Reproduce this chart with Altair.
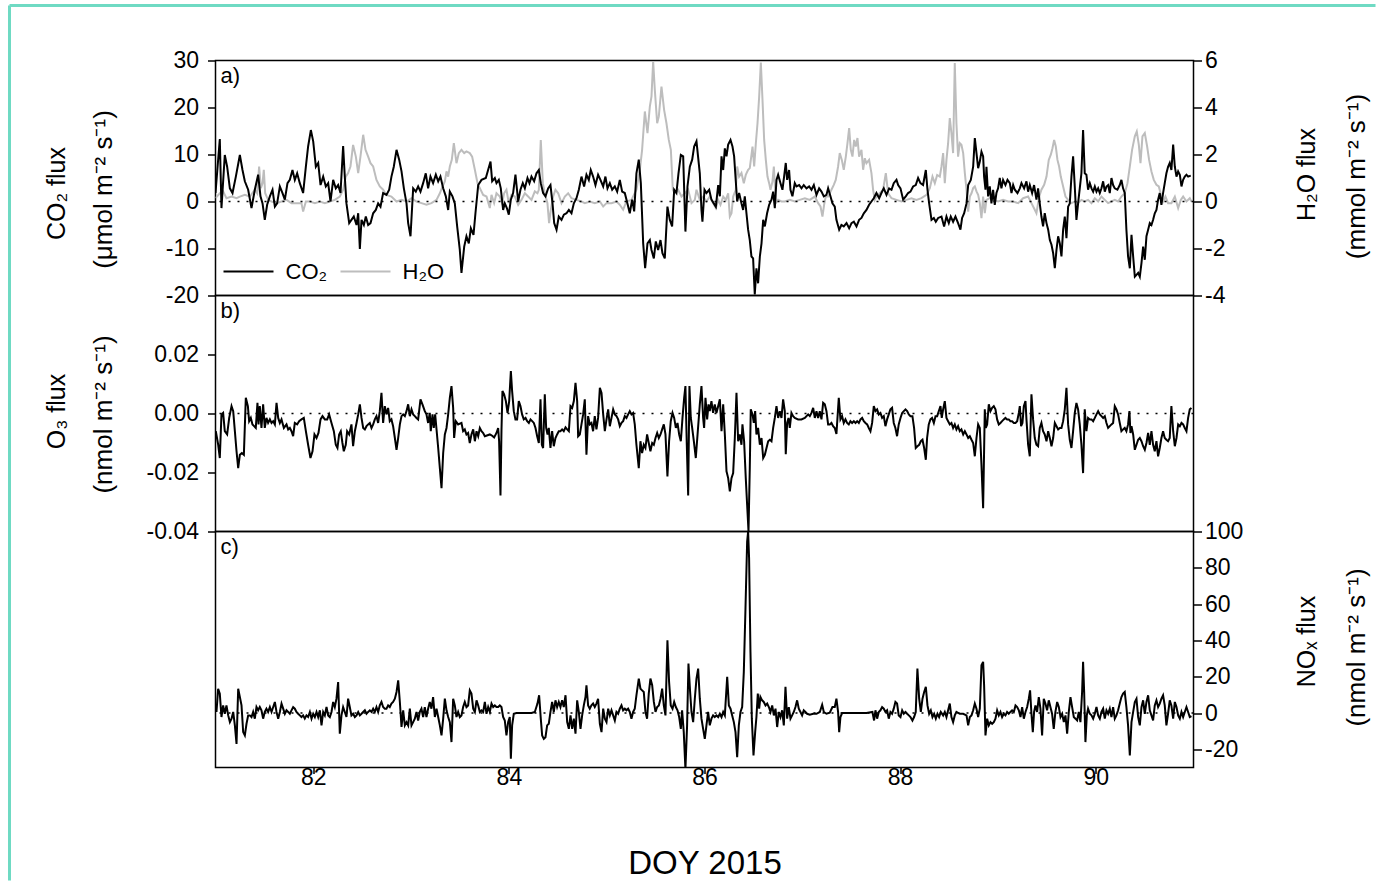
import altair as alt
import pandas as pd

FONT = "Liberation Sans"

# ---------------- data (DOY, value) ----------------
CO2 = [
(81.000,1.8),(81.044,13.3),(81.061,-1.4),(81.095,9.9),(81.119,7.4),(81.147,2.8),(81.174,1.8),(81.208,5.3),
(81.249,9.9),(81.276,6.7),(81.300,4.3),(81.334,2.5),(81.368,-1.4),(81.402,2.5),(81.436,5.7),(81.460,1.1),
(81.481,-0.4),(81.504,-3.9),(81.528,-0.7),(81.556,1.1),(81.583,2.5),(81.607,-1.1),(81.630,-0.4),(81.658,3.2),
(81.685,1.8),(81.709,0.4),(81.736,3.9),(81.760,4.6),(81.787,6.7),(81.811,4.6),(81.835,6.0),(81.862,3.9),
(81.896,1.8),(81.924,7.4),(81.947,11.7),(81.975,15.2),(81.999,12.8),(82.026,7.4),(82.050,8.2),(82.074,3.5),
(82.101,5.3),(82.128,3.2),(82.152,3.9),(82.176,0.0),(82.203,4.6),(82.230,2.8),(82.254,3.5),(82.278,1.8),
(82.305,11.8),(82.322,5.3),(82.339,-0.4),(82.367,-4.6),(82.390,-3.9),(82.414,-3.2),(82.442,-5.0),(82.459,-2.5),
(82.476,-10.1),(82.493,-3.9),(82.517,-5.0),(82.537,-3.2),(82.561,-5.0),(82.585,-4.6),(82.612,-2.5),(82.639,-1.8),
(82.663,-0.4),(82.687,-1.1),(82.714,1.8),(82.748,1.4),(82.776,2.5),(82.799,5.3),(82.823,7.4),(82.851,11.0),
(82.878,8.9),(82.902,6.4),(82.926,2.8),(82.953,-0.4),(82.970,-4.6),(82.994,-7.4),(83.021,2.8),(83.048,2.1),
(83.072,3.2),(83.096,2.1),(83.123,3.9),(83.150,6.0),(83.174,2.8),(83.198,5.3),(83.225,3.9),(83.253,5.7),
(83.277,4.3),(83.300,5.3),(83.328,2.8),(83.355,1.1),(83.379,-1.8),(83.396,2.1),(83.423,1.1),(83.447,-0.4),
(83.471,-5.3),(83.498,-10.3),(83.515,-15.2),
(83.543,-9.6),(83.566,-7.4),(83.590,-8.9),(83.611,-5.7),(83.638,-7.1),(83.658,-2.5),(83.686,3.5),(83.720,4.6),
(83.764,5.0),(83.812,8.5),(83.829,4.3),(83.856,5.0),(83.873,3.9),(83.897,4.6),(83.917,2.8),(83.941,-1.8),
(83.958,-0.4),(83.979,-1.4),(83.999,-2.8),(84.020,0.4),(84.043,1.8),(84.067,5.7),(84.095,0.0),(84.118,2.5),
(84.142,3.9),(84.163,2.8),(84.190,5.0),(84.210,3.9),(84.231,5.3),(84.258,4.3),(84.282,6.0),(84.306,6.7),
(84.326,3.9),(84.350,1.8),(84.374,1.1),(84.401,2.8),(84.425,3.5),(84.446,-0.4),(84.463,-4.6),(84.487,-6.0),
(84.510,-3.2),(84.538,-3.9),(84.562,-2.8),(84.589,-2.5),(84.613,-1.8),(84.640,-2.5),(84.664,-0.4),(84.691,0.7),
(84.715,2.5),(84.742,5.3),(84.769,3.2),(84.793,5.7),(84.817,4.6),(84.837,6.7),(84.861,5.3),(84.885,3.5),
(84.912,5.7),(84.936,4.6),(84.964,3.2),(84.987,5.3),(85.008,2.8),(85.032,3.9),(85.056,2.5),(85.083,3.2),
(85.107,2.1),(85.134,4.6),(85.158,2.1),(85.185,1.8),(85.212,-0.4),(85.236,-2.5),(85.260,0.4),(85.281,-2.1),
(85.304,6.0),(85.328,8.9),(85.349,3.9),(85.373,-8.9),(85.393,-14.2),(85.417,-8.9),(85.441,-8.2),(85.458,-10.3),
(85.482,-12.1),(85.502,-8.5),(85.526,-10.3),(85.550,-8.2),(85.570,-11.0),(85.594,-12.1),(85.621,-1.1),(85.645,-3.9),
(85.669,-5.3),(85.690,2.5),(85.713,1.8),(85.734,6.0),(85.758,9.9),(85.782,9.6),(85.805,-6.4),(85.826,3.2),
(85.850,7.4),(85.874,8.9),(85.894,11.7),(85.918,12.8),
(85.952,6.0),(85.969,-1.8),(85.979,-4.3),(86.000,2.5),(86.020,1.8),(86.048,2.5),(86.071,0.4),(86.095,-0.4),
(86.116,-1.1),(86.140,3.5),(86.157,1.1),(86.174,9.6),(86.191,6.7),(86.208,11.3),(86.225,9.6),(86.242,12.1),
(86.266,13.1),(86.286,11.7),(86.303,9.6),(86.320,4.3),(86.334,0.0),(86.354,1.8),(86.378,-0.4),(86.395,-1.8),
(86.412,1.1),(86.429,-2.5),(86.446,-6.0),(86.463,-8.2),(86.480,-11.7),(86.497,-12.1),(86.514,-19.8),(86.531,-14.2),
(86.548,-17.4),(86.566,-11.7),(86.583,-8.9),(86.600,-3.9),(86.617,-5.3),(86.640,-2.5),(86.661,-0.7),(86.685,0.4),
(86.702,2.1),(86.719,-1.4),(86.736,4.6),(86.753,5.7),(86.777,3.9),(86.797,2.5),(86.814,5.3),(86.831,8.2),
(86.845,4.6),(86.865,6.7),(86.879,2.5),(86.899,1.1),(86.923,3.9),(86.940,3.2),(86.968,3.5),(86.992,2.8),
(87.015,3.5),(87.043,2.8),(87.070,3.2),(87.094,2.5),(87.118,3.5),(87.145,1.4),(87.172,2.8),(87.196,2.1),
(87.220,1.1),(87.247,1.4),(87.264,2.8),(87.288,1.1),(87.308,-0.4),(87.332,-1.1),(87.349,-3.9),(87.377,-6.0),
(87.400,-5.0),(87.424,-5.3),(87.452,-4.6),(87.479,-5.7),(87.503,-4.6),(87.527,-4.3),(87.554,-5.3),(87.581,-3.9),
(87.605,-3.5),(87.629,-2.5),(87.656,-1.8),(87.683,-0.7),(87.707,0.0),(87.731,0.7),(87.758,1.8),(87.786,0.7),
(87.809,1.8),(87.833,2.8),(87.861,1.4),(87.888,2.8),(87.912,2.5),(87.935,3.9),(87.963,4.6),(87.980,3.5),
(88.004,2.8),(88.031,0.4),(88.058,1.1),(88.082,1.8),(88.106,2.1),(88.133,3.2),(88.160,3.5),(88.184,5.0),
(88.208,3.9),(88.235,3.5),(88.263,6.7),(88.280,2.5),(88.297,-0.4),(88.321,-3.9),(88.345,-3.5),(88.365,-4.3),
(88.389,-3.5),(88.423,-3.2),
(88.450,-5.3),(88.474,-3.2),(88.498,-4.6),(88.518,-3.2),(88.542,-4.3),(88.566,-3.2),(88.593,-4.6),(88.617,-6.0),
(88.634,-3.5),(88.655,-2.5),(88.679,-0.4),(88.696,3.5),(88.723,4.6),(88.747,7.4),(88.764,13.5),(88.781,10.3),
(88.798,7.1),(88.815,8.5),(88.832,10.6),(88.849,9.6),(88.859,5.3),(88.873,2.5),(88.883,7.4),(88.900,1.1),
(88.917,3.2),(88.934,-0.4),(88.951,2.5),(88.968,-0.7),(88.985,1.8),(89.002,2.8),(89.019,5.0),(89.036,2.8),
(89.053,4.6),(89.077,3.5),(89.098,4.6),(89.122,3.9),(89.139,1.8),(89.156,3.5),(89.173,2.5),(89.200,1.8),
(89.224,2.8),(89.241,3.9),(89.268,2.8),(89.292,4.3),(89.309,2.1),(89.326,3.5),(89.350,1.8),(89.370,3.5),
(89.394,0.4),(89.411,2.8),(89.428,-0.4),(89.445,-3.2),(89.462,-5.3),(89.479,-2.5),(89.497,-4.6),(89.514,-6.0),
(89.531,-8.2),(89.548,-9.2),(89.565,-11.0),(89.582,-14.2),(89.599,-10.3),(89.616,-7.4),(89.633,-8.9),(89.650,-11.7),
(89.667,-6.0),(89.684,-3.2),(89.701,-7.8),(89.718,-1.1),(89.735,-0.4),(89.752,5.3),(89.769,9.6),(89.786,3.2),
(89.803,-3.9),(89.820,-0.4),(89.837,2.8),(89.854,6.0),(89.871,15.2),(89.888,6.0),(89.905,5.7),(89.922,2.5),
(89.940,3.9),(89.957,2.8),(89.974,2.1),(89.991,3.2),(90.008,2.1),(90.025,2.8),(90.042,1.8),(90.059,2.8),
(90.076,4.3),(90.093,2.1),(90.110,3.2),(90.127,3.5),(90.144,1.8),(90.161,5.0),(90.178,3.5),(90.195,2.8),
(90.222,2.5),(90.246,3.5),(90.263,4.6),(90.280,2.8),(90.297,1.8),(90.314,-6.0),(90.331,-11.7),(90.349,-14.2),
(90.366,-7.1),(90.383,-11.7),(90.400,-16.0),(90.417,-15.6),(90.434,-15.2),(90.451,-16.0),(90.468,-13.1),(90.485,-9.6),
(90.502,-12.4),(90.519,-7.4),(90.536,-6.0),(90.553,-4.6),(90.570,-5.0),(90.587,-3.9),(90.604,-2.5),(90.621,-1.8),
(90.638,0.4),(90.655,1.8),(90.672,-0.7),(90.689,1.8),(90.706,3.9),(90.723,6.0),(90.740,7.4),(90.757,8.2),
(90.774,6.7),(90.792,12.1),(90.809,7.4),(90.826,5.3),(90.843,6.4),(90.860,5.7),(90.877,3.2),(90.894,4.6),
(90.911,5.3),(90.928,5.7),(90.945,5.3),(90.972,5.5),
]

H2O = [
(81.000,0.14),(81.044,0.35),(81.078,0.43),(81.112,0.14),(81.164,0.21),(81.215,0.14),(81.249,0.21),(81.300,0.28),
(81.351,0.21),(81.402,0.50),(81.426,0.35),(81.446,1.49),(81.464,0.57),(81.481,0.78),(81.494,1.35),(81.508,0.35),
(81.538,0.07),(81.573,0.0),(81.624,-0.07),(81.675,0.0),(81.726,0.07),(81.777,-0.07),(81.828,-0.07),(81.879,-0.07),
(81.896,-0.43),(81.924,0.0),(81.965,0.0),(82.016,-0.07),(82.067,0.0),(82.118,-0.07),(82.169,0.0),(82.220,0.07),
(82.271,0.21),(82.305,0.50),(82.332,1.06),(82.356,1.21),(82.380,1.49),(82.407,2.41),(82.435,1.91),(82.459,1.21),
(82.482,1.91),(82.510,2.84),(82.534,2.20),(82.561,1.91),(82.585,1.63),(82.612,1.49),(82.646,0.92),(82.680,0.64),
(82.714,0.50),(82.748,0.28),(82.799,0.21),(82.851,0.0),(82.902,0.07),(82.953,0.0),(83.004,0.14),(83.055,0.0),
(83.106,-0.07),(83.157,-0.14),(83.208,-0.07),(83.260,0.07),(83.294,0.35),(83.321,0.64),(83.345,0.85),(83.362,1.28),
(83.379,1.06),(83.396,1.49),(83.416,1.77),(83.437,2.48),(83.464,1.63),(83.488,2.06),(83.515,2.20),
(83.543,2.06),(83.566,2.13),(83.600,2.06),(83.624,1.91),(83.652,1.35),(83.679,0.78),(83.703,0.57),(83.737,0.28),
(83.771,0.21),(83.805,-0.28),(83.822,0.28),(83.849,-0.07),(83.873,0.35),(83.907,0.21),(83.931,-0.07),(83.951,0.35),
(83.975,0.50),(83.999,-0.07),(84.026,0.28),(84.061,0.21),(84.095,-0.14),(84.129,0.07),(84.163,0.35),(84.197,0.21),
(84.231,0.07),(84.265,0.43),(84.292,0.35),(84.306,0.50),(84.326,2.62),(84.347,0.78),(84.367,0.35),(84.394,-0.07),
(84.411,-0.92),(84.429,-0.35),(84.452,0.21),(84.476,0.50),(84.504,0.35),(84.538,-0.07),(84.572,0.21),(84.606,0.35),
(84.640,0.14),(84.691,0.07),(84.742,0.0),(84.776,-0.07),(84.827,0.0),(84.878,-0.07),(84.930,0.0),(84.964,-0.21),
(84.998,-0.07),(85.049,-0.07),(85.100,0.0),(85.134,-0.14),(85.168,-0.35),(85.202,0.0),(85.253,0.07),(85.304,0.50),
(85.339,1.35),(85.362,2.20),(85.390,3.83),(85.417,2.91),(85.441,4.04),(85.458,4.47),(85.475,5.96),(85.492,4.75),
(85.516,3.33),(85.533,3.62),(85.560,4.89),(85.587,3.90),(85.611,3.33),(85.635,2.62),(85.656,2.20),(85.676,0.50),
(85.696,0.35),(85.730,0.50),(85.765,0.21),(85.799,0.35),(85.833,0.50),(85.867,-0.07),(85.901,0.07),
(85.918,0.50),(85.952,0.07),(85.986,0.21),(86.020,0.0),(86.054,0.21),(86.088,-0.07),(86.116,-0.28),(86.140,0.07),
(86.163,-0.14),(86.191,0.21),(86.218,0.07),(86.242,0.35),(86.259,-0.64),(86.276,-0.50),(86.293,0.21),(86.320,0.50),
(86.334,1.49),(86.354,1.06),(86.378,1.21),(86.402,0.78),(86.422,1.13),(86.446,1.35),(86.463,1.42),(86.491,2.34),
(86.508,1.49),(86.525,2.48),(86.542,3.33),(86.559,4.47),(86.576,5.91),(86.593,4.33),(86.610,2.62),(86.627,1.77),
(86.644,1.06),(86.661,0.78),(86.675,0.50),(86.695,0.85),(86.709,1.49),(86.729,-0.07),(86.753,0.07),(86.787,0.0),
(86.821,0.0),(86.872,0.07),(86.923,0.0),(86.974,0.07),(87.026,0.14),(87.077,0.07),(87.128,0.21),(87.162,-0.07),
(87.186,-0.21),(87.206,-0.64),(87.223,-0.14),(87.240,0.21),(87.264,0.21),(87.298,0.50),(87.322,0.71),(87.342,0.92),
(87.366,1.49),(87.383,2.06),(87.404,1.77),(87.424,1.35),(87.445,1.91),(87.462,2.48),(87.479,3.12),(87.496,2.20),
(87.513,1.91),(87.530,2.62),(87.547,2.34),(87.564,2.70),(87.581,1.91),(87.605,2.20),(87.622,1.35),(87.639,1.84),
(87.656,1.63),(87.683,1.77),(87.707,1.21),(87.724,0.50),(87.741,0.07),(87.758,0.21),(87.792,0.35),(87.826,0.50),
(87.854,1.21),(87.878,0.35),(87.912,0.14),(87.963,0.07),(88.014,0.0),(88.065,0.07),(88.116,0.14),(88.167,0.07),
(88.218,0.14),(88.270,0.28),(88.304,0.57),(88.331,1.06),(88.355,0.78),(88.379,1.13),(88.406,1.06),
(88.423,1.49),(88.440,2.06),(88.457,0.78),(88.474,1.77),(88.491,2.48),(88.508,3.55),(88.525,2.91),(88.542,2.06),
(88.559,5.89),(88.576,3.33),(88.593,1.91),(88.610,2.48),(88.627,2.41),(88.645,2.06),(88.662,1.21),(88.679,0.50),
(88.696,-0.43),(88.713,0.21),(88.730,0.35),(88.747,0.57),(88.764,0.64),(88.781,0.43),(88.798,0.28),(88.815,-0.07),
(88.832,-0.71),(88.849,0.21),(88.866,-0.50),(88.883,0.07),(88.917,0.14),(88.951,0.07),(89.002,0.0),(89.053,0.07),
(89.105,0.0),(89.156,0.0),(89.207,-0.07),(89.258,0.14),(89.309,0.21),(89.343,-0.07),(89.377,-0.35),(89.394,-0.50),
(89.411,-0.07),(89.428,0.28),(89.445,0.50),(89.473,0.71),(89.497,1.06),(89.520,1.77),(89.541,1.99),(89.558,2.27),
(89.575,2.62),(89.592,2.34),(89.609,1.77),(89.626,1.49),(89.643,1.06),(89.667,0.64),(89.691,0.21),(89.718,0.07),
(89.752,-0.07),(89.786,0.0),(89.820,-0.07),(89.854,0.07),(89.888,0.0),(89.922,0.07),(89.957,-0.07),(89.991,0.14),
(90.025,0.0),(90.059,0.21),(90.093,0.07),(90.127,-0.07),(90.161,0.0),(90.195,0.07),(90.229,0.0),(90.263,0.21),
(90.297,0.35),(90.325,0.78),(90.349,1.49),(90.372,2.20),(90.400,2.77),(90.420,2.98),(90.441,2.41),(90.458,1.63),
(90.478,2.77),(90.502,2.91),(90.526,2.34),(90.546,1.77),(90.570,1.28),(90.594,0.92),(90.621,0.71),(90.645,0.64),
(90.672,0.21),(90.689,0.0),(90.713,0.21),(90.740,-0.07),(90.774,-0.07),(90.809,0.21),(90.843,-0.28),(90.870,0.07),
(90.894,0.21),(90.928,0.0),(90.962,0.14),(90.979,0.0),
]

O3 = [
(81.003,-0.0060),(81.027,-0.0105),(81.044,-0.0151),(81.061,-0.0003),(81.078,0.0002),(81.095,-0.0060),(81.119,-0.0071),
(81.140,-0.0015),(81.164,0.0025),(81.181,0.0008),(81.198,-0.0060),(81.215,-0.0128),(81.232,-0.0185),(81.249,-0.0140),
(81.269,-0.0134),(81.290,-0.0140),(81.310,0.0053),(81.331,0.0025),(81.344,-0.0026),(81.361,-0.0015),(81.378,-0.0037),
(81.395,-0.0043),(81.412,-0.0049),(81.429,0.0036),(81.440,-0.0037),(81.453,0.0025),(81.470,-0.0049),(81.487,0.0031),
(81.504,-0.0049),(81.521,-0.0015),(81.538,-0.0032),(81.556,-0.0020),(81.573,-0.0032),(81.590,-0.0026),(81.607,-0.0037),
(81.624,0.0036),(81.641,-0.0015),(81.658,-0.0032),(81.675,-0.0020),(81.699,-0.0049),(81.726,-0.0037),(81.743,-0.0054),
(81.760,-0.0049),(81.777,-0.0060),(81.794,-0.0077),(81.811,-0.0032),(81.835,-0.0037),(81.855,-0.0026),(81.879,-0.0020),
(81.903,-0.0015),(81.924,-0.0060),(81.947,-0.0106),(81.971,-0.0151),(81.992,-0.0128),(82.012,-0.0071),(82.033,-0.0083),
(82.053,-0.0066),(82.074,-0.0020),(82.094,-0.0009),(82.118,-0.0020),(82.142,-0.0020),(82.162,-0.0003),(82.186,-0.0032),
(82.210,-0.0060),(82.230,-0.0106),(82.247,-0.0117),(82.264,-0.0071),(82.281,-0.0060),(82.298,-0.0100),(82.312,-0.0128),
(82.332,-0.0106),(82.346,-0.0060),(82.367,-0.0071),(82.390,-0.0037),(82.407,-0.0111),(82.425,-0.0060),(82.442,-0.0032),
(82.459,-0.0003),(82.476,0.0031),(82.493,-0.0015),(82.510,-0.0049),(82.527,-0.0054),(82.544,-0.0043),(82.561,-0.0037),
(82.578,-0.0032),(82.595,-0.0049),(82.612,-0.0037),(82.629,-0.0020),(82.646,-0.0009),(82.663,-0.0032),(82.680,0.0008),
(82.697,0.0070),(82.714,-0.0032),(82.731,0.0025),(82.748,-0.0003),(82.765,0.0019),(82.782,-0.0026),(82.799,-0.0020),
(82.816,-0.0043),(82.834,-0.0083),(82.851,-0.0123),(82.868,-0.0083),(82.885,-0.0037),(82.902,-0.0009),(82.919,-0.0003),
(82.936,-0.0009),(82.953,0.0008),(82.970,0.0031),(82.987,-0.0009),(83.004,0.0014),(83.021,-0.0003),(83.038,-0.0009),
(83.055,-0.0015),(83.072,-0.0020),(83.096,0.0048),(83.116,0.0031),(83.140,0.0008),(83.157,-0.0003),(83.174,-0.0032),
(83.191,0.0002),(83.201,-0.0060),(83.219,-0.0003),(83.232,-0.0049),(83.246,-0.0003),(83.260,-0.0054),(83.277,-0.0117),
(83.294,-0.0185),(83.311,-0.0253),(83.328,-0.0134),(83.345,-0.0071),(83.362,-0.0049),(83.379,-0.0003),(83.396,0.0053),
(83.413,0.0093),(83.430,0.0019),(83.440,-0.0083),(83.457,-0.0026),(83.481,-0.0037),(83.515,-0.0032),
(83.532,-0.0060),(83.549,-0.0054),(83.566,-0.0071),(83.583,-0.0066),(83.600,-0.0100),(83.617,-0.0071),(83.635,-0.0054),
(83.652,-0.0094),(83.669,-0.0060),(83.686,-0.0077),(83.703,-0.0049),(83.720,-0.0060),(83.737,-0.0066),(83.754,-0.0077),
(83.805,-0.0071),(83.822,-0.0074),(83.849,-0.0081),(83.873,-0.0066),(83.890,-0.0049),(83.900,-0.0094),(83.914,-0.0278),
(83.924,-0.0060),(83.934,0.0076),(83.951,0.0065),(83.969,0.0042),(83.986,0.0002),(84.003,0.0042),(84.020,0.0144),
(84.033,0.0076),(84.050,0.0008),(84.067,-0.0020),(84.084,-0.0020),(84.101,0.0042),(84.118,0.0025),(84.135,-0.0003),
(84.152,-0.0020),(84.170,-0.0015),(84.187,-0.0026),(84.204,-0.0032),(84.221,-0.0020),(84.238,-0.0026),(84.255,-0.0032),
(84.272,-0.0049),(84.289,-0.0077),(84.306,-0.0100),(84.323,0.0048),(84.337,-0.0106),(84.350,-0.0117),(84.367,0.0065),
(84.381,-0.0049),(84.395,-0.0071),(84.408,-0.0049),(84.425,-0.0117),(84.442,-0.0060),(84.459,-0.0111),(84.476,-0.0083),
(84.493,-0.0071),(84.510,-0.0060),(84.527,-0.0060),(84.544,-0.0054),(84.561,-0.0060),(84.579,-0.0047),(84.596,-0.0054),
(84.613,-0.0060),(84.630,0.0025),(84.647,0.0019),(84.664,0.0042),(84.681,0.0104),(84.698,0.0042),(84.708,-0.0077),
(84.725,-0.0071),(84.742,-0.0037),(84.759,-0.0003),(84.776,0.0048),(84.793,-0.0140),(84.810,-0.0009),(84.827,-0.0037),
(84.844,-0.0032),(84.861,-0.0060),(84.878,-0.0009),(84.895,-0.0054),(84.912,-0.0015),(84.930,0.0087),(84.947,0.0070),
(84.964,-0.0003),(84.981,-0.0060),(84.998,-0.0020),(85.015,0.0014),(85.032,-0.0043),(85.049,-0.0015),(85.066,0.0014),
(85.083,-0.0003),(85.100,-0.0009),(85.117,-0.0020),(85.134,-0.0043),(85.151,-0.0032),(85.168,-0.0026),(85.185,-0.0009),
(85.202,-0.0015),(85.219,-0.0003),(85.236,0.0008),(85.253,-0.0003),(85.270,0.0002),(85.287,-0.0037),(85.304,-0.0106),
(85.328,-0.0185),(85.345,-0.0094),(85.362,-0.0134),(85.379,-0.0106),(85.396,-0.0117),(85.413,-0.0071),(85.430,-0.0100),
(85.447,-0.0128),(85.465,-0.0100),(85.482,-0.0106),(85.499,-0.0083),(85.516,-0.0066),(85.533,-0.0083),(85.550,-0.0071),
(85.567,-0.0054),(85.584,-0.0037),(85.601,-0.0071),(85.621,-0.0213),(85.638,-0.0094),(85.655,-0.0026),(85.673,0.0002),
(85.690,-0.0015),(85.707,-0.0049),(85.724,-0.0032),(85.741,-0.0071),(85.758,-0.0094),(85.775,-0.0015),(85.792,0.0053),
(85.805,0.0093),(85.819,-0.0106),(85.833,-0.0278),(85.846,0.0093),(85.860,-0.0015),(85.874,-0.0049),(85.891,-0.0094),
(85.911,-0.0151),
(85.952,0.0031),(85.969,0.0093),(85.986,-0.0015),(85.996,-0.0049),(86.010,0.0053),(86.027,-0.0020),(86.041,0.0031),
(86.054,0.0008),(86.071,0.0042),(86.088,0.0002),(86.105,0.0031),(86.122,0.0002),(86.140,0.0025),(86.157,0.0048),
(86.174,-0.0060),(86.191,0.0031),(86.208,-0.0071),(86.225,-0.0196),(86.242,-0.0219),(86.259,-0.0264),(86.276,-0.0219),
(86.293,-0.0202),(86.310,-0.0083),(86.327,0.0070),(86.344,-0.0094),(86.361,-0.0071),(86.378,-0.0106),(86.388,-0.0037),
(86.405,-0.0094),(86.422,-0.0219),(86.436,-0.0310),(86.450,-0.0400),(86.463,-0.0185),(86.473,0.0014),(86.491,-0.0003),
(86.504,-0.0032),(86.518,0.0008),(86.531,-0.0071),(86.548,-0.0049),(86.566,-0.0106),(86.583,-0.0083),(86.600,-0.0151),
(86.617,-0.0140),(86.634,-0.0117),(86.651,-0.0094),(86.668,-0.0089),(86.685,-0.0094),(86.702,-0.0049),(86.719,-0.0015),
(86.736,0.0025),(86.753,-0.0015),(86.770,0.0008),(86.787,-0.0015),(86.804,0.0048),(86.821,0.0008),(86.831,-0.0138),
(86.845,-0.0032),(86.859,-0.0015),(86.872,-0.0049),(86.889,0.0002),(86.906,-0.0009),(86.923,-0.0015),(86.957,-0.0020),
(86.991,-0.0020),(87.026,-0.0015),(87.060,-0.0003),(87.077,-0.0009),(87.094,0.0002),(87.111,0.0019),(87.128,-0.0015),
(87.145,0.0008),(87.162,-0.0015),(87.179,0.0008),(87.196,-0.0020),(87.213,0.0036),(87.230,0.0031),(87.247,0.0008),
(87.264,-0.0037),(87.281,-0.0037),(87.298,-0.0032),(87.315,-0.0043),(87.332,-0.0049),(87.349,-0.0069),(87.373,0.0053),
(87.390,-0.0020),(87.407,-0.0009),(87.424,-0.0032),(87.441,-0.0020),(87.458,-0.0032),(87.475,-0.0037),(87.492,-0.0026),
(87.509,-0.0032),(87.527,-0.0026),(87.544,-0.0032),(87.561,-0.0026),(87.578,-0.0032),(87.595,-0.0020),(87.612,-0.0015),
(87.629,-0.0026),(87.646,-0.0032),(87.663,-0.0037),(87.680,-0.0049),(87.697,-0.0060),(87.714,-0.0032),(87.731,0.0025),
(87.748,0.0008),(87.765,0.0014),(87.782,-0.0003),(87.799,0.0002),(87.816,-0.0015),(87.833,-0.0009),(87.850,-0.0043),
(87.867,-0.0020),(87.884,-0.0003),(87.901,0.0014),(87.918,0.0019),(87.935,-0.0032),(87.952,-0.0049),(87.969,-0.0077),
(87.986,-0.0037),(88.004,-0.0015),(88.021,0.0002),(88.038,0.0008),(88.055,0.0014),(88.072,0.0008),(88.089,-0.0003),
(88.106,-0.0009),(88.126,-0.0009),(88.143,-0.0049),(88.160,-0.0117),(88.177,-0.0111),(88.195,-0.0106),(88.212,-0.0094),
(88.229,-0.0089),(88.246,-0.0117),(88.263,-0.0157),(88.276,-0.0083),(88.293,-0.0037),(88.310,-0.0020),(88.327,-0.0015),
(88.345,-0.0032),(88.362,-0.0009),(88.379,-0.0009),(88.396,0.0008),(88.413,0.0025),(88.426,-0.0015),
(88.440,0.0014),(88.457,0.0042),(88.474,-0.0015),(88.491,-0.0026),(88.508,-0.0037),(88.525,-0.0032),(88.542,-0.0049),
(88.559,-0.0037),(88.576,-0.0054),(88.593,-0.0043),(88.610,-0.0060),(88.627,-0.0054),(88.645,-0.0071),(88.662,-0.0060),
(88.679,-0.0071),(88.696,-0.0083),(88.713,-0.0077),(88.730,-0.0089),(88.747,-0.0100),(88.764,-0.0145),(88.781,-0.0083),
(88.798,-0.0037),(88.815,-0.0049),(88.832,-0.0174),(88.849,-0.0321),(88.866,0.0014),(88.876,-0.0049),(88.890,-0.0037),
(88.907,0.0031),(88.924,0.0008),(88.941,0.0019),(88.958,0.0025),(88.975,0.0014),(88.992,-0.0020),(89.009,-0.0037),
(89.026,-0.0032),(89.043,-0.0026),(89.060,-0.0020),(89.077,-0.0015),(89.094,-0.0020),(89.111,-0.0020),(89.128,-0.0026),
(89.145,-0.0026),(89.163,-0.0032),(89.180,-0.0032),(89.197,-0.0026),(89.214,0.0002),(89.224,0.0025),(89.237,-0.0043),
(89.251,-0.0032),(89.265,0.0025),(89.282,0.0042),(89.292,-0.0020),(89.309,-0.0106),(89.326,-0.0145),(89.343,0.0065),
(89.360,-0.0020),(89.377,-0.0083),(89.394,-0.0106),(89.411,-0.0111),(89.428,-0.0049),(89.445,-0.0032),(89.462,-0.0060),
(89.479,-0.0071),(89.497,-0.0094),(89.514,-0.0060),(89.531,-0.0083),(89.548,-0.0111),(89.565,-0.0083),(89.582,-0.0032),
(89.599,-0.0043),(89.616,-0.0054),(89.633,-0.0049),(89.650,-0.0049),(89.667,-0.0026),(89.684,0.0014),(89.701,0.0087),
(89.718,-0.0037),(89.735,-0.0089),(89.752,-0.0117),(89.769,-0.0060),(89.786,0.0002),(89.803,0.0036),(89.820,0.0014),
(89.837,-0.0037),(89.854,-0.0106),(89.871,-0.0202),(89.888,0.0014),(89.905,-0.0060),(89.922,-0.0015),(89.940,-0.0020),
(89.957,-0.0020),(89.974,-0.0026),(89.991,-0.0015),(90.008,-0.0003),(90.025,0.0008),(90.042,-0.0003),(90.059,-0.0009),
(90.076,-0.0015),(90.093,-0.0009),(90.110,-0.0032),(90.127,-0.0049),(90.144,-0.0043),(90.161,-0.0037),(90.178,-0.0032),
(90.195,0.0025),(90.212,0.0014),(90.229,-0.0003),(90.246,-0.0032),(90.263,-0.0060),(90.280,-0.0054),(90.297,-0.0049),
(90.314,-0.0060),(90.331,-0.0037),(90.345,0.0008),(90.355,-0.0066),(90.366,-0.0043),(90.383,-0.0071),(90.400,-0.0123),
(90.417,-0.0106),(90.434,-0.0089),(90.451,-0.0083),(90.468,-0.0094),(90.485,-0.0111),(90.502,-0.0123),(90.519,-0.0100),
(90.536,-0.0066),(90.553,-0.0106),(90.570,-0.0060),(90.587,-0.0106),(90.604,-0.0128),(90.621,-0.0094),(90.638,-0.0145),
(90.655,-0.0117),(90.672,-0.0083),(90.689,-0.0060),(90.706,-0.0083),(90.723,-0.0089),(90.740,-0.0094),(90.757,-0.0083),
(90.774,0.0025),(90.792,-0.0060),(90.809,-0.0111),(90.826,-0.0083),(90.843,-0.0037),(90.860,-0.0043),(90.877,-0.0032),
(90.894,-0.0037),(90.911,-0.0049),(90.928,-0.0060),(90.945,-0.0015),(90.962,0.0014),(90.979,0.0019),
]

NOX = [
(81.010,0.6),(81.027,13.4),(81.044,10.7),(81.061,-2.2),(81.078,4.2),(81.095,-0.4),(81.112,4.2),(81.130,-1.3),
(81.147,-5.0),(81.164,-3.1),(81.181,0.6),(81.198,-6.8),(81.215,-17.0),(81.232,13.4),(81.249,8.8),(81.266,4.2),
(81.283,-10.5),(81.300,-12.3),(81.317,-5.9),(81.334,-1.3),(81.351,-1.3),(81.368,-2.2),(81.385,0.6),(81.402,-3.1),
(81.419,3.3),(81.436,1.5),(81.453,3.3),(81.470,1.5),(81.487,-3.1),(81.504,0.6),(81.521,2.4),(81.538,0.6),
(81.556,3.3),(81.573,0.6),(81.590,3.3),(81.607,6.1),(81.624,0.6),(81.641,-3.1),(81.658,0.6),(81.675,5.2),
(81.692,2.4),(81.709,-0.4),(81.726,1.5),(81.743,0.6),(81.760,-0.4),(81.777,1.5),(81.794,3.3),(81.811,2.4),
(81.828,0.6),(81.845,-0.4),(81.862,-1.3),(81.879,-2.2),(81.896,-1.3),(81.913,-3.1),(81.930,-1.3),(81.947,-2.2),
(81.965,0.6),(81.982,-3.1),(81.999,-0.4),(82.016,-2.2),(82.033,0.6),(82.050,-2.2),(82.067,1.5),(82.084,-6.8),
(82.101,0.6),(82.118,-1.3),(82.135,3.3),(82.152,-1.3),(82.169,-2.2),(82.186,0.6),(82.203,6.1),(82.220,3.3),
(82.237,7.9),(82.254,17.1),(82.271,-11.4),(82.288,-1.3),(82.305,3.3),(82.322,0.6),(82.339,-2.2),(82.356,7.9),
(82.373,3.3),(82.390,-1.3),(82.407,-0.4),(82.425,-2.2),(82.442,-1.3),(82.459,0.6),(82.476,-1.3),(82.493,-0.4),
(82.510,0.6),(82.527,1.5),(82.544,-0.4),(82.561,0.6),(82.578,1.5),(82.595,0.6),(82.612,2.4),(82.629,0.6),
(82.646,3.3),(82.663,0.6),(82.680,4.2),(82.697,6.1),(82.714,3.3),(82.731,2.4),(82.748,2.4),(82.765,4.2),
(82.782,3.3),(82.799,5.2),(82.816,6.1),(82.834,7.9),(82.851,11.6),(82.868,18.0),(82.885,6.1),(82.902,-7.7),
(82.919,1.5),(82.936,-6.8),(82.953,-5.0),(82.970,-6.8),(82.987,2.4),(83.004,-6.8),(83.021,-5.0),(83.038,-3.1),
(83.055,0.6),(83.072,-4.1),(83.089,0.6),(83.106,2.4),(83.123,-2.2),(83.140,3.3),(83.157,-2.2),(83.174,2.4),
(83.191,6.1),(83.208,2.4),(83.225,8.8),(83.243,-2.2),(83.260,2.4),(83.277,-2.2),(83.294,-6.8),(83.311,-12.3),
(83.328,-3.1),(83.345,7.9),(83.362,1.5),(83.379,-2.2),(83.396,-5.0),(83.413,-16.0),(83.430,7.9),(83.447,4.2),
(83.464,-2.2),(83.481,0.6),(83.498,-2.2),(83.515,-1.3),
(83.532,3.3),(83.549,6.1),(83.566,3.3),(83.583,4.2),(83.600,12.5),(83.617,10.7),(83.635,2.4),(83.652,0.6),
(83.669,7.0),(83.686,4.2),(83.703,0.6),(83.720,1.5),(83.737,0.6),(83.754,6.1),(83.771,-0.4),(83.788,3.3),
(83.805,0.6),(83.822,5.2),(83.839,3.3),(83.856,4.2),(83.873,3.3),(83.890,3.3),(83.907,4.2),(83.924,3.3),
(83.941,-2.2),(83.958,-4.1),(83.975,-12.3),(83.992,-5.0),(84.009,-2.2),(84.020,-25.2),(84.033,-6.8),(84.050,-0.4),
(84.077,0.0),(84.129,0.0),(84.180,0.0),(84.231,0.0),(84.265,0.6),(84.292,5.2),(84.309,9.8),(84.326,-3.1),
(84.340,-12.3),(84.357,-14.2),(84.374,-13.3),(84.391,-6.8),(84.408,-5.9),(84.425,0.6),(84.442,6.1),(84.459,0.6),
(84.476,7.0),(84.493,3.3),(84.510,6.1),(84.527,3.3),(84.544,7.0),(84.561,3.3),(84.579,9.8),(84.596,-5.0),
(84.613,-8.7),(84.630,-1.3),(84.647,-8.7),(84.664,-3.1),(84.681,-11.4),(84.698,7.0),(84.715,0.6),(84.732,-8.7),
(84.749,-1.3),(84.766,4.2),(84.783,8.8),(84.793,15.3),(84.810,4.2),(84.827,2.4),(84.844,4.2),(84.861,5.2),
(84.878,3.3),(84.895,5.2),(84.912,7.9),(84.930,-5.9),(84.947,-10.5),(84.964,2.4),(84.981,-3.1),(84.998,-5.0),
(85.015,2.4),(85.032,-1.3),(85.049,1.5),(85.066,-1.3),(85.083,-4.1),(85.100,0.6),(85.117,-0.4),(85.134,2.4),
(85.151,4.2),(85.168,1.5),(85.185,2.4),(85.202,1.5),(85.219,2.4),(85.236,0.6),(85.253,-3.1),(85.270,0.6),
(85.287,2.4),(85.304,9.8),(85.328,19.0),(85.345,13.4),(85.362,12.5),(85.379,11.6),(85.396,0.6),(85.413,-3.1),
(85.430,10.7),(85.447,19.0),(85.465,15.3),(85.482,6.1),(85.499,0.6),(85.516,3.3),(85.533,4.2),(85.550,7.9),
(85.567,13.4),(85.584,4.2),(85.601,-1.3),(85.621,40.1),(85.638,17.1),(85.655,4.2),(85.673,2.4),(85.690,6.1),
(85.707,3.3),(85.724,1.5),(85.741,-2.2),(85.758,-8.7),(85.771,1.5),(85.788,-10.5),(85.805,-31.0),(85.822,-6.8),
(85.836,27.3),(85.853,11.6),(85.867,0.6),(85.884,-5.0),(85.901,7.9),(85.918,19.0),(85.935,24.5),
(85.952,7.9),(85.969,-3.1),(85.986,-8.7),(86.003,-14.2),(86.020,-6.8),(86.037,0.6),(86.054,-6.8),(86.071,-3.1),
(86.088,-1.3),(86.105,-2.2),(86.122,-1.3),(86.140,-2.2),(86.157,-0.4),(86.174,-2.2),(86.191,0.6),(86.208,-1.3),
(86.232,19.9),(86.249,4.2),(86.266,2.4),(86.283,-1.3),(86.300,-5.0),(86.317,-10.5),(86.334,-24.3),(86.351,-6.8),
(86.368,0.6),(86.385,3.3),(86.402,22.7),(86.419,57.6),(86.436,94.5),(86.446,100.0),(86.456,85.3),(86.470,33.7),
(86.484,-3.1),(86.501,-23.4),(86.518,-10.5),(86.531,-2.2),(86.545,10.7),(86.559,2.4),(86.572,8.8),(86.589,7.0),
(86.606,6.1),(86.624,4.2),(86.641,5.2),(86.658,3.3),(86.675,0.6),(86.692,4.2),(86.709,-1.3),(86.726,2.4),
(86.743,-7.7),(86.760,0.6),(86.777,-2.2),(86.794,1.5),(86.811,-6.8),(86.828,14.4),(86.845,-3.1),(86.862,3.3),
(86.879,-3.1),(86.896,-1.3),(86.913,0.6),(86.930,3.3),(86.947,7.0),(86.964,2.4),(86.981,0.6),(86.998,-1.3),
(87.015,1.5),(87.032,0.6),(87.049,-0.4),(87.077,-0.9),(87.111,-0.4),(87.145,-0.4),(87.179,0.6),(87.203,4.6),
(87.220,0.6),(87.247,-0.4),(87.281,0.2),(87.308,3.3),(87.332,3.3),(87.349,7.9),(87.366,0.6),(87.377,-10.5),
(87.390,-2.2),(87.407,0.0),(87.452,0.0),(87.520,0.0),(87.588,0.0),(87.656,0.0),(87.717,0.6),(87.734,-4.1),
(87.748,1.5),(87.765,-3.1),(87.782,0.6),(87.799,1.5),(87.816,3.3),(87.833,2.4),(87.850,0.6),(87.867,1.5),
(87.884,-3.1),(87.901,0.6),(87.918,-0.4),(87.935,2.4),(87.952,6.1),(87.969,5.2),(87.986,-1.3),(88.004,-2.2),
(88.021,1.5),(88.038,-0.4),(88.055,0.6),(88.072,-0.4),(88.089,-1.3),(88.106,-2.2),(88.126,-4.1),(88.143,-2.2),
(88.160,0.6),(88.177,24.5),(88.195,7.9),(88.212,0.6),(88.229,7.9),(88.246,11.6),(88.263,14.4),(88.280,4.2),
(88.297,-0.4),(88.314,1.5),(88.331,-2.2),(88.348,-0.4),(88.365,-3.1),(88.382,-0.4),(88.399,-2.2),(88.416,0.6),
(88.440,-1.3),(88.457,0.6),(88.474,-2.2),(88.491,1.5),(88.508,5.2),(88.525,-2.2),(88.542,-5.0),(88.559,-1.3),
(88.576,0.6),(88.610,-0.4),(88.645,-0.4),(88.679,-1.3),(88.696,-6.8),(88.713,-2.2),(88.730,-1.3),(88.747,1.5),
(88.764,5.2),(88.781,2.4),(88.798,-2.2),(88.815,2.4),(88.832,26.3),(88.849,28.2),(88.859,15.3),(88.873,-12.3),
(88.890,-3.1),(88.907,-6.8),(88.924,-5.0),(88.941,-5.9),(88.958,-5.0),(88.975,-3.1),(88.992,1.5),(89.009,-1.3),
(89.026,0.6),(89.043,-2.2),(89.060,-0.4),(89.077,-1.3),(89.094,0.6),(89.111,-0.4),(89.128,0.6),(89.145,1.5),
(89.163,0.6),(89.180,4.2),(89.197,3.3),(89.214,1.5),(89.231,-2.2),(89.248,3.3),(89.265,-3.1),(89.282,0.6),
(89.299,3.3),(89.316,7.9),(89.329,12.5),(89.343,-0.4),(89.357,-10.5),(89.370,0.6),(89.384,4.2),(89.401,0.6),
(89.418,8.8),(89.435,2.4),(89.452,-12.3),(89.469,7.9),(89.486,5.2),(89.503,1.5),(89.520,7.0),(89.537,3.3),
(89.554,-0.4),(89.571,-8.7),(89.588,0.6),(89.606,6.1),(89.623,3.3),(89.640,-2.2),(89.657,-0.4),(89.674,-5.0),
(89.691,-1.3),(89.708,-11.4),(89.725,0.6),(89.742,8.8),(89.759,3.3),(89.776,-2.2),(89.793,-3.1),(89.810,-4.1),
(89.827,0.6),(89.844,-5.0),(89.861,11.6),(89.871,28.2),(89.882,11.6),(89.895,-16.0),(89.909,-1.3),(89.922,2.4),
(89.940,-0.4),(89.957,-1.3),(89.974,-3.1),(89.991,-0.4),(90.008,3.3),(90.025,-1.3),(90.042,-3.1),(90.059,0.6),
(90.076,2.4),(90.093,-3.1),(90.110,1.5),(90.127,-0.4),(90.144,2.4),(90.161,-2.2),(90.178,3.3),(90.195,-3.1),
(90.212,-1.3),(90.229,1.5),(90.246,5.2),(90.263,8.8),(90.280,10.7),(90.297,11.6),(90.314,3.3),(90.331,-6.8),
(90.349,-23.4),(90.366,-5.0),(90.383,0.6),(90.400,6.1),(90.417,7.9),(90.434,-2.2),(90.451,-6.8),(90.468,3.3),
(90.485,7.0),(90.502,-0.4),(90.519,6.1),(90.536,9.8),(90.553,1.5),(90.570,-1.3),(90.587,-4.1),(90.604,4.2),
(90.621,7.0),(90.638,3.3),(90.655,5.2),(90.672,7.9),(90.689,9.8),(90.706,4.2),(90.723,-6.8),(90.740,-0.4),
(90.757,7.0),(90.774,4.2),(90.792,-3.1),(90.809,6.1),(90.826,3.3),(90.843,-1.3),(90.860,-3.1),(90.877,0.6),
(90.894,-2.2),(90.911,0.6),(90.928,3.3),(90.945,0.6),(90.962,-2.2),(90.979,-1.7),
]

SERIES = ["CO\u2082", "H\u2082O"]
SERIES_COLORS = ["#000000", "#bdbdbd"]
X_TICKS = [82, 84, 86, 88, 90]
CO2_TICKS = [-20, -10, 0, 10, 20, 30]
H2O_TICKS = [-4, -2, 0, 2, 4, 6]
O3_TICKS = [-0.04, -0.02, 0.0, 0.02]
NOX_TICKS = [-20, 0, 20, 40, 60, 80, 100]
UNIT_U = "(\u03bcmol m\u207b\u00b2 s\u207b\u00b9)"
UNIT_M = "(mmol m\u207b\u00b2 s\u207b\u00b9)"
UNIT_N = "(nmol m\u207b\u00b2 s\u207b\u00b9)"

# ---------------- frames ----------------
co2_df = pd.DataFrame(CO2, columns=["doy", "co2"]).assign(series=SERIES[0])
h2o_df = pd.DataFrame(H2O, columns=["doy", "h2o"]).assign(series=SERIES[1])
o3_df = pd.DataFrame(O3, columns=["doy", "o3"])
nox_df = pd.DataFrame(NOX, columns=["doy", "nox"])
one = pd.DataFrame({"k": [0]})

W = 978
XDOM = [81, 91]
MINUS = "replace(datum.label, '\u2212', '-')"
TEAL = "#6fdac3"

x_none = alt.X("doy:Q", scale=alt.Scale(domain=XDOM, nice=False, zero=False), axis=None)
color = alt.Color(
    "series:N",
    scale=alt.Scale(domain=SERIES, range=SERIES_COLORS),
    legend=alt.Legend(
        orient="none", legendX=7, legendY=185, direction="horizontal", title=None,
        symbolType="stroke", symbolSize=2500, symbolStrokeWidth=2,
        labelFontSize=22, labelFont=FONT, labelColor="black", labelOffset=11,
        columnPadding=9, padding=0,
    ),
)

def yaxis(orient, values, fmt="d"):
    return alt.Axis(orient=orient, values=values, format=fmt, labelExpr=MINUS, title=None,
                    labelOverlap=False, tickCount=20,
                    labelPadding=9 if orient == "left" else 3)

def vtext(t, x, y, size=25):
    return alt.Chart(one).mark_text(text=t, angle=270, align="center", baseline="middle",
                                    fontSize=size, font=FONT, color="black").encode(
        x=alt.value(x), y=alt.value(y))

def panel_label(t):
    return alt.Chart(one).mark_text(text=t, align="left", baseline="top", fontSize=22,
                                    font=FONT, color="black").encode(
        x=alt.value(5), y=alt.value(5))

zero_rule = alt.Chart(one).mark_rule(color="black", strokeDash=[2, 7], strokeWidth=1.5)

# ---------------- panel a ----------------
co2_line = alt.Chart(co2_df).mark_line(strokeWidth=2, clip=True).encode(
    x=x_none,
    y=alt.Y("co2:Q", scale=alt.Scale(domain=[-20, 30], nice=False), axis=yaxis("left", CO2_TICKS)),
    color=color,
)
h2o_line = alt.Chart(h2o_df).mark_line(strokeWidth=2, clip=True).encode(
    x=x_none,
    y=alt.Y("h2o:Q", scale=alt.Scale(domain=[-4, 6], nice=False), axis=yaxis("right", H2O_TICKS)),
    color=color,
)
frame_v = alt.Chart(one).mark_rule(color=TEAL, strokeWidth=3).encode(
    x=alt.value(-206), y=alt.value(-55), y2=alt.value(820))
frame_h = alt.Chart(one).mark_rule(color=TEAL, strokeWidth=3).encode(
    x=alt.value(-206), x2=alt.value(1160), y=alt.value(-55))

inner_a = alt.layer(
    co2_line, zero_rule.encode(y=alt.datum(0)), panel_label("a)"), frame_v, frame_h,
    vtext("CO\u2082 flux", -159, 133), vtext(UNIT_U, -112, 129, 26),
    vtext("H\u2082O flux", 1091, 114), vtext(UNIT_M, 1141, 116, 26),
)
panel_a = alt.layer(h2o_line, inner_a).resolve_scale(y="independent").properties(width=W, height=235)

# ---------------- panel b ----------------
o3_line = alt.Chart(o3_df).mark_line(color="black", strokeWidth=2, clip=True).encode(
    x=x_none,
    y=alt.Y("o3:Q", scale=alt.Scale(domain=[-0.04, 0.04], nice=False),
            axis=yaxis("left", O3_TICKS, ".2f")),
)
panel_b = alt.layer(
    o3_line, zero_rule.encode(y=alt.datum(0)), panel_label("b)"),
    vtext("O\u2083 flux", -159, 116), vtext(UNIT_N, -112, 119, 26),
).properties(width=W, height=236)

# ---------------- panel c ----------------
nox_line = alt.Chart(nox_df).mark_line(color="black", strokeWidth=2, clip=True).encode(
    x=alt.X("doy:Q", scale=alt.Scale(domain=XDOM, nice=False, zero=False),
            axis=alt.Axis(values=X_TICKS, format="d", title="DOY 2015", titleFontSize=33,
                          titleX=489, titleY=96, titleAlign="center", titleBaseline="middle",
                          tickSize=6, labelPadding=-7, labelFontSize=23, labelOverlap=False,
                          tickCount=20)),
    y=alt.Y("nox:Q", scale=alt.Scale(domain=[-30, 100], nice=False), axis=yaxis("right", NOX_TICKS)),
)
panel_c = alt.layer(
    nox_line, zero_rule.encode(y=alt.datum(0)), panel_label("c)"),
    vtext("NO\u2093 flux", 1091, 110), vtext(UNIT_N, 1141, 116, 26),
).properties(width=W, height=236)

chart = (
    alt.vconcat(panel_a, panel_b, panel_c, spacing=0, bounds="flush")
    .resolve_scale(color="independent")
    .properties(padding={"left": 6.5, "top": 2.5, "right": 0, "bottom": 0}, background="white")
    .configure(font=FONT)
    .configure_view(stroke="black", strokeWidth=1.5)
    .configure_axis(domain=False, grid=False, tickColor="black", tickWidth=1.5, tickSize=8,
                    labelColor="black", titleColor="black", labelFontSize=23, labelFont=FONT,
                    titleFont=FONT, titleFontWeight="normal", labelFlush=False)
)

chart.save("out.html", embed_options={"renderer": "svg", "actions": False})
